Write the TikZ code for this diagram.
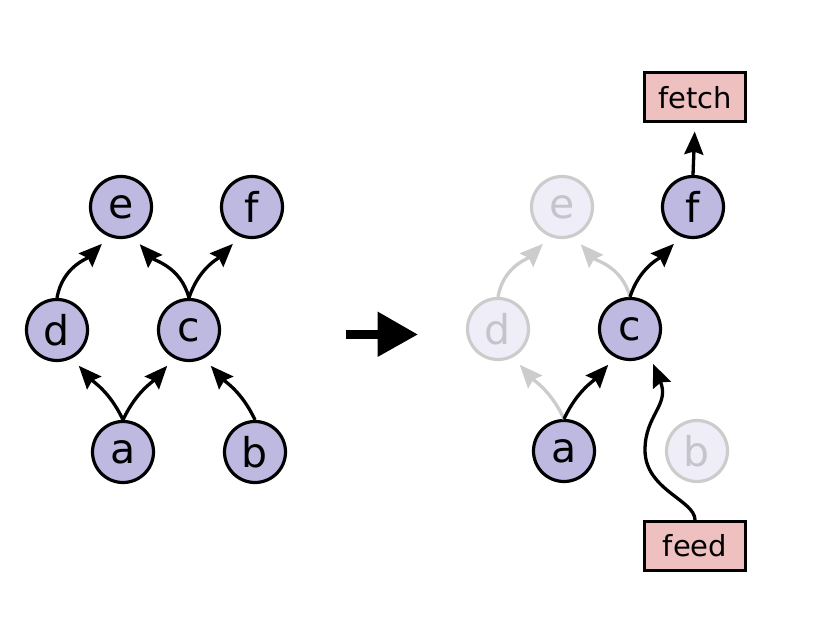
\documentclass[tikz,border=0pt]{standalone}
\usepackage{fontspec}
\setmainfont{DejaVu Sans}
\usetikzlibrary{arrows.meta}
\definecolor{nodefill}{HTML}{BDB9E1}
\definecolor{boxfill}{HTML}{EEC0C0}
\definecolor{fadefill}{HTML}{EFEEF8}
\definecolor{fadeline}{HTML}{CCCCCC}
\definecolor{fadetext}{HTML}{C4C4CC}
\tikzset{
  vnode/.style={circle, draw=black, line width=3.2pt, fill=nodefill, minimum size=61pt, inner sep=0pt, font=\fontsize{41}{41}\selectfont},
  fnode/.style={vnode, draw=fadeline, fill=fadefill, text=fadetext},
  iobox/.style={rectangle, draw=black, line width=3pt, fill=boxfill, minimum width=101pt, minimum height=49pt, inner sep=0pt, font=\fontsize{29}{29}\selectfont},
  edge/.style={line width=3.3pt, draw=black, -{Stealth[length=23pt,width=19pt,inset=3pt]}, shorten >=10pt},
  fedge/.style={edge, draw=fadeline},
}
\begin{document}
\begin{tikzpicture}[x=1pt,y=1pt]
\useasboundingbox (0,0) rectangle (836,-620);
% left graph
\node[vnode] (e1) at (121,-207) {e};
\node[vnode] (f1) at (252,-207) {f};
\node[vnode] (d1) at (57,-330) {d};
\node[vnode] (c1) at (189,-330) {c};
\node[vnode] (a1) at (123,-452) {a};
\node[vnode] (b1) at (255,-452) {b};
\draw[edge] (a1.north) to[out=115,in=-48] (d1.-62);
\draw[edge] (a1.north) to[out=65,in=-132] (c1.-118);
\draw[edge] (b1.north) to[out=115,in=-48] (c1.-62);
\draw[edge] (d1.north) to[out=80,in=-135] (e1.-112);
\draw[edge] (c1.north) to[out=105,in=-48] (e1.-68);
\draw[edge] (c1.north) to[out=72,in=-135] (f1.-112);
% middle arrow
\fill (346,-330.5) rectangle (380,-339.5);
\fill (377.5,-311.5) -- (417.5,-334.5) -- (377.5,-357) -- cycle;
% right graph
\node[fnode] (e2) at (562,-207) {e};
\node[vnode] (f2) at (693,-207) {f};
\node[fnode] (d2) at (498,-329) {d};
\node[vnode] (c2) at (630,-329) {c};
\node[vnode] (a2) at (564,-451) {a};
\node[fnode] (b2) at (697,-451) {b};
\node[iobox] (fetch) at (695,-97.5) {fetch};
\node[iobox] (feed) at (695,-546) {feed};
\draw[fedge] (a2.north) to[out=115,in=-48] (d2.-62);
\draw[fedge] (d2.north) to[out=80,in=-135] (e2.-112);
\draw[fedge] (c2.north) to[out=105,in=-48] (e2.-68);
\draw[edge] (a2.north) to[out=65,in=-132] (c2.-118);
\draw[edge] (c2.north) to[out=72,in=-135] (f2.-112);
\draw[edge, shorten >=8pt] (f2.north) -- (fetch.south);
\draw[edge] (feed.north) .. controls (695,-500) and (645,-490) .. (645,-450)
  .. controls (645,-415) and (670,-405) .. (c2.-53);
\end{tikzpicture}
\end{document}
